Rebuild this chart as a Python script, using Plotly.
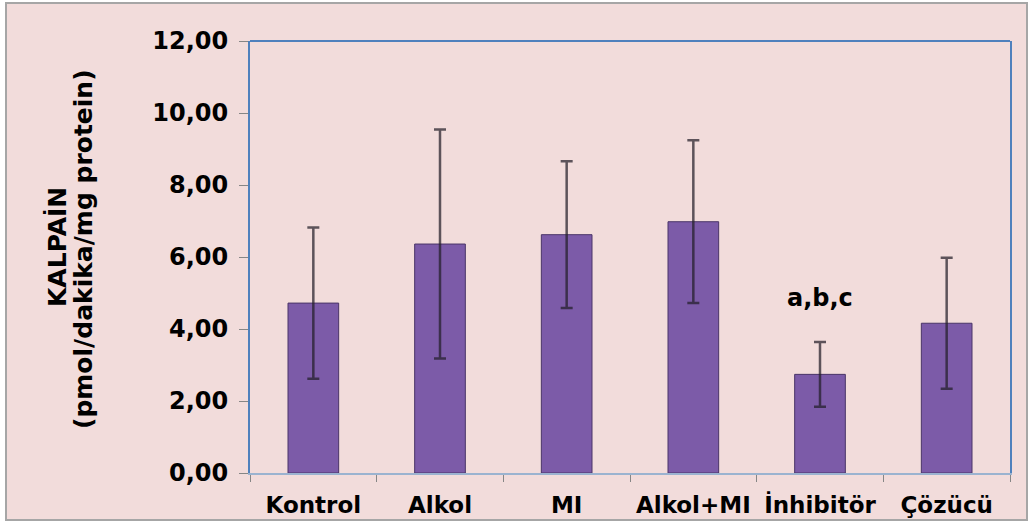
import plotly.graph_objects as go

categories = ["Kontrol", "Alkol", "MI", "Alkol+MI", "İnhibitör", "Çözücü"]
means = [4.72, 6.36, 6.62, 6.98, 2.74, 4.16]
sd = [2.10, 3.18, 2.04, 2.26, 0.90, 1.82]
note_text = "a,b,c"
note_cat = "İnhibitör"
note_y = 4.87
title_line1 = "KALPAİN"
title_line2 = "(pmol/dakika/mg protein)"

W, H = 1031, 524
ml, mr, mt, mb = 250, 21, 41, 51
pw, ph = W - ml - mr, H - mt - mb

def px_x(px):
    return (px - ml) / pw

def px_y(py):
    return (H - mb - py) / ph

font_fam = "Verdana, DejaVu Sans, sans-serif"

fig = go.Figure()
fig.add_trace(go.Bar(
    x=categories, y=means,
    marker=dict(color="#7C5BA8", line=dict(color="#4A3568", width=1)),
    error_y=dict(type="data", array=sd, visible=True,
                 color="rgba(35,30,40,0.72)", thickness=2.5, width=6),
    width=0.4,
))

fig.add_annotation(x=note_cat, y=note_y, text=f"<b>{note_text}</b>", showarrow=False,
                   font=dict(family=font_fam, size=24, color="#000000"))

# y-axis title as two annotations
fig.add_annotation(
    xref="paper", yref="paper", x=px_x(57), y=px_y(247),
    text=f"<b>{title_line1}</b>",
    textangle=-90, showarrow=False, xanchor="center", yanchor="middle",
    font=dict(family=font_fam, size=25, color="#000000"),
)
fig.add_annotation(
    xref="paper", yref="paper", x=px_x(83), y=px_y(249),
    text=f"<b>{title_line2}</b>",
    textangle=-90, showarrow=False, xanchor="center", yanchor="middle",
    font=dict(family=font_fam, size=25, color="#000000"),
)

# top border of plot area
fig.add_shape(type="line", xref="paper", yref="paper", x0=0, x1=1, y0=1, y1=1,
              line=dict(color="#4F81BD", width=2))
# outer chart border with pink fill
fig.add_shape(type="rect", xref="paper", yref="paper",
              x0=px_x(6), x1=px_x(1027), y0=px_y(520), y1=px_y(3),
              line=dict(color="#A6A6A6", width=2), fillcolor="#F2DCDB", layer="below")

fig.update_layout(
    width=W, height=H,
    margin=dict(l=ml, r=mr, t=mt, b=mb, pad=0, autoexpand=False),
    paper_bgcolor="#FFFFFF", plot_bgcolor="rgba(0,0,0,0)",
    separators=",.",
    showlegend=False,
    font=dict(family=font_fam, color="#000000"),
)
fig.update_yaxes(
    range=[0, 12], dtick=2, tickformat=".2f", automargin=False,
    showgrid=False, zeroline=False,
    showline=True, linecolor="#4F81BD", linewidth=2, mirror=True,
    ticks="outside", ticklen=9, tickcolor="#868686", tickwidth=1,
    ticklabelstandoff=6,
    tickfont=dict(family=font_fam, size=24, color="#000000"),
    tickprefix="<b>", ticksuffix="</b>",
)
fig.update_xaxes(
    showgrid=False, zeroline=False, automargin=False,
    showline=True, linecolor="#9BB3D0", linewidth=2,
    ticks="outside", ticklen=7, tickcolor="#868686", tickwidth=1,
    tickson="boundaries",
    ticklabelstandoff=10,
    tickfont=dict(family=font_fam, size=23, color="#000000"),
    tickprefix="<b>", ticksuffix="</b>",
)

fig.write_html("out.html", config={"displayModeBar": False},
               post_script="document.body.style.margin='0';")
